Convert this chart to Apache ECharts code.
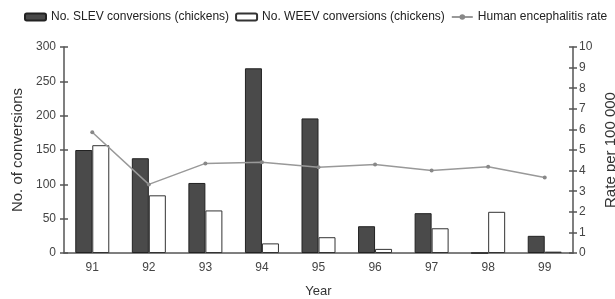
<!DOCTYPE html>
<html>
<head>
<meta charset="utf-8">
<script src="https://cdn.jsdelivr.net/npm/echarts@6/dist/echarts.min.js"></script>
<style>
  html, body { margin: 0; padding: 0; background: #fff; }
  #chart { width: 615px; height: 299px; }
</style>
</head>
<body>
<div id="chart"></div>
<script>
// data
const years = ['91', '92', '93', '94', '95', '96', '97', '98', '99']
const slev = [150, 138, 102, 269, 196, 39, 58, 0, 25]
const weev = [157, 84, 62, 14, 23, 6, 36, 60, 2]
const rate = [5.86, 3.33, 4.35, 4.4, 4.16, 4.3, 4.0, 4.19, 3.67]

const axisColor = '#555'
const font = 'Liberation Sans, Arial, sans-serif'
const tick = { color: axisColor, width: 1.5 }

const chart = echarts.init(document.getElementById('chart'))

// extra axes only carry the inner half of the ticks (ticks cross the axis line)
function innerY(min, max, interval, position) {
  return {
    type: 'value', min, max, interval, position,
    axisLine: { show: false },
    axisTick: { show: true, inside: true, length: 4, lineStyle: tick },
    axisLabel: { show: false },
    splitLine: { show: false }
  }
}

const option = {
  animation: false,
  textStyle: { fontFamily: font },
  legend: {
    left: 24,
    top: 11,
    width: 600,
    padding: 0,
    itemWidth: 21,
    itemHeight: 7,
    itemGap: 6,
    textStyle: { fontSize: 12, color: '#222', fontFamily: font },
    data: ['No. SLEV conversions (chickens)', 'No. WEEV conversions (chickens)', 'Human encephalitis rate']
  },
  grid: { left: 64, right: 42, top: 47, bottom: 46, outerBoundsMode: 'none' },
  xAxis: [
    {
      type: 'category',
      data: years,
      name: 'Year',
      nameLocation: 'middle',
      nameGap: 32,
      nameTextStyle: { fontSize: 13, color: '#333' },
      axisLine: { lineStyle: tick },
      axisTick: { length: 3, lineStyle: tick },
      axisLabel: { fontSize: 12, color: '#444', margin: 9 }
    },
    {
      type: 'category',
      data: years,
      position: 'bottom',
      axisLine: { show: false },
      axisTick: { inside: true, length: 3, lineStyle: tick },
      axisLabel: { show: false }
    }
  ],
  yAxis: [
    {
      type: 'value',
      min: 0, max: 300, interval: 50,
      name: 'No. of conversions',
      nameLocation: 'middle',
      nameGap: 37,
      nameTextStyle: { fontSize: 15, color: '#333' },
      axisLine: { show: true, lineStyle: tick },
      axisTick: { show: true, length: 4, lineStyle: tick },
      axisLabel: { fontSize: 12, color: '#444', margin: 8 },
      splitLine: { show: false }
    },
    {
      type: 'value',
      min: 0, max: 10, interval: 1,
      name: 'Rate per 100 000',
      nameLocation: 'middle',
      nameGap: 27,
      nameTextStyle: { fontSize: 15, color: '#333' },
      axisLine: { show: true, lineStyle: tick },
      axisTick: { show: true, length: 4, lineStyle: tick },
      axisLabel: { fontSize: 12, color: '#444', margin: 6 },
      splitLine: { show: false }
    },
    innerY(0, 300, 50, 'left'),
    innerY(0, 10, 1, 'right')
  ],
  series: [
    {
      name: 'No. SLEV conversions (chickens)',
      type: 'bar',
      data: slev,
      barWidth: 17,
      barGap: 0,
      itemStyle: { color: '#4a4a4a', borderColor: '#222', borderWidth: 1 }
    },
    {
      name: 'No. WEEV conversions (chickens)',
      type: 'bar',
      data: weev,
      barWidth: 17,
      itemStyle: { color: '#fff', borderColor: '#333', borderWidth: 1 }
    },
    {
      name: 'Human encephalitis rate',
      type: 'line',
      yAxisIndex: 1,
      data: rate,
      symbol: 'circle',
      symbolSize: 4,
      lineStyle: { color: '#999', width: 1.5 },
      itemStyle: { color: '#888' }
    }
  ]
}
chart.setOption(option)
</script>
</body>
</html>
